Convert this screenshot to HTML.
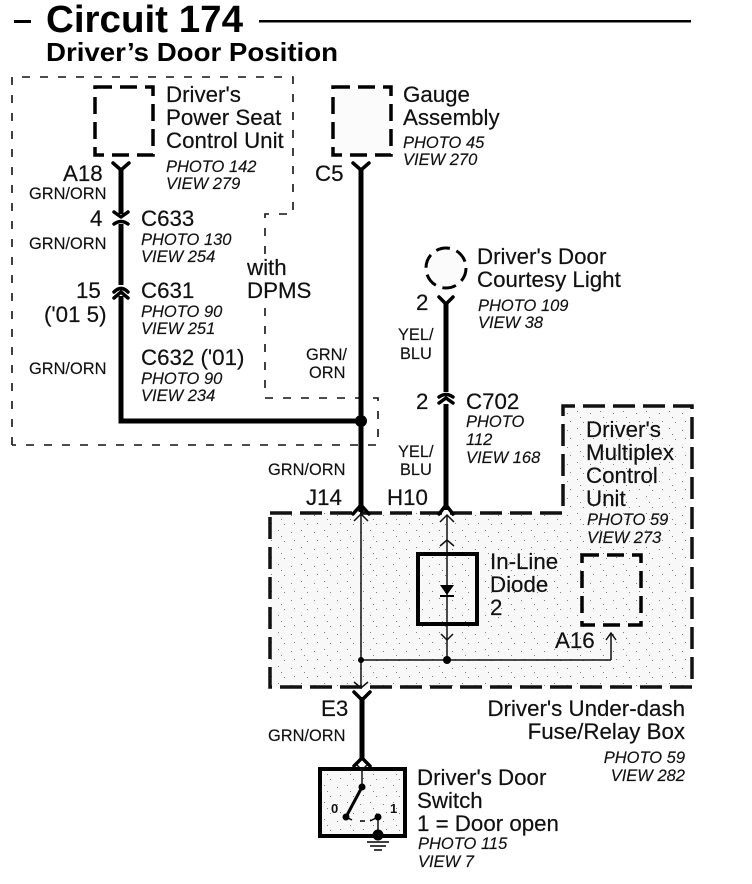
<!DOCTYPE html>
<html>
<head>
<meta charset="utf-8">
<style>
html,body{margin:0;padding:0;background:#fff;width:752px;height:884px;overflow:hidden}
svg{display:block}
text{font-family:"Liberation Sans",Arial,sans-serif;fill:#111}
.b{font-size:22.3px;stroke:#111;stroke-width:.2}
.i{font-size:16.5px;font-style:italic;stroke:#111;stroke-width:.15}
.w{font-size:16.4px;stroke:#111;stroke-width:.15}
.k{fill:none;stroke:#000;stroke-width:5}
.t{fill:none;stroke:#111;stroke-width:1.5}
.y{fill:none;stroke:#000;stroke-width:3.5;stroke-linecap:round;stroke-linejoin:round}
.d{fill:none;stroke:#111;stroke-width:1.6;stroke-dasharray:8 10}
.h{fill:none;stroke:#111;stroke-width:3.5;stroke-dasharray:22 8}
</style>
</head>
<body>
<svg width="752" height="884" viewBox="0 0 752 884" xmlns="http://www.w3.org/2000/svg">
<defs>
<pattern id="n" width="23" height="17" patternUnits="userSpaceOnUse">
<rect width="23" height="17" fill="#f8f8f8"/>
<g fill="#808080">
<rect x="2" y="3" width="1" height="1"/><rect x="15" y="5" width="1" height="1"/>
<rect x="5" y="9" width="1" height="1"/><rect x="18" y="13" width="1" height="1"/>
<rect x="8" y="14" width="1" height="1"/>
</g>
</pattern>
</defs>

<!-- title -->
<rect x="14" y="20" width="17" height="3" fill="#000"/>
<text x="46" y="32" font-size="38" font-weight="bold" textLength="197" lengthAdjust="spacingAndGlyphs" style="fill:#000">Circuit 174</text>
<rect x="259" y="20" width="432" height="2.5" fill="#000"/>
<text x="46" y="61" font-size="26" font-weight="bold" textLength="292" lengthAdjust="spacingAndGlyphs" style="fill:#000">Driver’s Door Position</text>

<!-- shaded relay box -->
<path d="M270 513H563V406H692V687H270Z" fill="url(#n)"/>
<path class="h" d="M270 513H563V406H692V687H270Z"/>

<!-- gauge fill -->
<rect x="335" y="89" width="55" height="66" fill="#fbfbfb"/>
<circle cx="446" cy="268" r="20" fill="#fbfbfb"/>

<!-- dashed with-DPMS border -->
<path class="d" d="M12 445V77H293V214H265V258M265 308V398H378V445H12"/>

<!-- dashed component boxes -->
<g fill="none" stroke="#000" stroke-width="3.5" stroke-dasharray="17 8">
<rect x="95" y="87" width="58" height="68"/>
<rect x="333" y="87" width="58" height="68"/>
<rect x="582" y="555" width="59" height="70"/>
</g>
<circle cx="446" cy="268" r="20" fill="none" stroke="#000" stroke-width="3" stroke-dasharray="14 7"/>

<!-- thick wires -->
<path class="k" d="M121 168V214M121 224V285M121 296V421H356"/>
<path class="k" d="M361 168V512M446 302V392M446 404V510M362 697V760"/>
<circle cx="361" cy="421" r="6" fill="#000"/>

<!-- connectors -->
<path class="y" d="M113 163L121 170L129 163"/>
<path class="y" d="M114 212L121 217L128 212M114 224Q121 219 128 224"/>
<path class="y" d="M114 292Q121 285 128 292M114 298L121 292L128 298"/>
<path class="y" d="M353 163L361 170L369 163"/>
<path class="y" d="M439 297L446 304L453 297"/>
<path class="y" d="M439 397Q446 392 453 397M439 403L446 398L453 403"/>
<path class="y" d="M353 514L361 505L369 514"/>
<path class="y" d="M439 514L446 505L453 514"/>
<path class="y" d="M354 692L362 700L370 692"/>
<path class="y" d="M354 766L362 758L370 766"/>

<!-- inner wiring -->
<path class="t" d="M361 513V687M447 516V660M361 660H611M611 660V633"/>
<path class="t" d="M354 521L361 514L368 521M440 522L447 515L454 522M440 546L447 540L454 546M441 634L447 640L453 634M354 682L361 688L368 682M606 640L611 633L616 640"/>
<circle cx="361" cy="660" r="3" fill="#000"/>
<circle cx="447" cy="660" r="4" fill="#000"/>

<!-- diode -->
<rect x="418" y="554" width="59" height="70" fill="none" stroke="#000" stroke-width="4"/>
<path d="M440 585H454L447 595Z" fill="#000"/>
<rect x="440" y="595" width="14" height="2" fill="#000"/>

<!-- switch -->
<rect x="320" y="769" width="85" height="67" fill="url(#n)" stroke="#000" stroke-width="4"/>
<path class="t" d="M362 769V787M378 817V835M357 765L362 770L367 765"/>
<path d="M362 787L346 817" fill="none" stroke="#000" stroke-width="3"/>
<path d="M346 817L352 820M360 821H365M370 821L378 817" fill="none" stroke="#000" stroke-width="1.5"/>
<circle cx="362" cy="787" r="3.5" fill="#000"/>
<circle cx="346" cy="817" r="3.5" fill="#000"/>
<circle cx="378" cy="817" r="3.5" fill="#000"/>
<circle cx="378" cy="835" r="5.5" fill="#000"/>
<path d="M367 842H389M370 846H386M374 850H382" fill="none" stroke="#000" stroke-width="1.5"/>
<text x="331" y="813" font-size="13" font-weight="bold">0</text>
<text x="390" y="813" font-size="13" font-weight="bold">1</text>

<!-- component labels -->
<text class="b" x="166" y="102">Driver's</text>
<text class="b" x="166" y="125">Power Seat</text>
<text class="b" x="166" y="148">Control Unit</text>
<text class="i" x="166" y="172">PHOTO 142</text>
<text class="i" x="166" y="189">VIEW 279</text>

<text class="b" x="403" y="102">Gauge</text>
<text class="b" x="403" y="125">Assembly</text>
<text class="i" x="403" y="148">PHOTO 45</text>
<text class="i" x="403" y="165">VIEW 270</text>

<text class="b" x="63" y="181">A18</text>
<text class="w" x="29" y="199">GRN/ORN</text>
<text class="b" x="90" y="226">4</text>
<text class="b" x="141" y="226">C633</text>
<text class="i" x="141" y="245">PHOTO 130</text>
<text class="i" x="141" y="262">VIEW 254</text>
<text class="w" x="29" y="249">GRN/ORN</text>
<text class="b" x="76" y="298">15</text>
<text class="b" x="141" y="298">C631</text>
<text class="b" x="44" y="322">('01 5)</text>
<text class="i" x="141" y="317">PHOTO 90</text>
<text class="i" x="141" y="334">VIEW 251</text>
<text class="b" x="141" y="365">C632 ('01)</text>
<text class="i" x="141" y="384">PHOTO 90</text>
<text class="i" x="141" y="401">VIEW 234</text>
<text class="w" x="29" y="374">GRN/ORN</text>

<text class="b" x="315" y="181">C5</text>
<text class="b" x="247" y="275">with</text>
<text class="b" x="247" y="298">DPMS</text>
<text class="w" x="306" y="360">GRN/</text>
<text class="w" x="309" y="378">ORN</text>
<text class="w" x="268" y="475">GRN/ORN</text>

<text class="b" x="477" y="264">Driver's Door</text>
<text class="b" x="477" y="287">Courtesy Light</text>
<text class="i" x="478" y="311">PHOTO 109</text>
<text class="i" x="478" y="328">VIEW 38</text>
<text class="b" x="416" y="310">2</text>
<text class="w" x="398" y="340">YEL/</text>
<text class="w" x="400" y="359">BLU</text>
<text class="b" x="416" y="409">2</text>
<text class="b" x="466" y="409">C702</text>
<text class="i" x="466" y="427">PHOTO</text>
<text class="i" x="466" y="445">112</text>
<text class="i" x="466" y="463">VIEW 168</text>
<text class="w" x="398" y="457">YEL/</text>
<text class="w" x="400" y="475">BLU</text>

<text class="b" x="586" y="437">Driver's</text>
<text class="b" x="586" y="460">Multiplex</text>
<text class="b" x="586" y="483">Control</text>
<text class="b" x="586" y="506">Unit</text>
<text class="i" x="587" y="525">PHOTO 59</text>
<text class="i" x="587" y="543">VIEW 273</text>

<text class="b" x="306" y="505">J14</text>
<text class="b" x="387" y="505">H10</text>
<text class="b" x="490" y="569">In-Line</text>
<text class="b" x="490" y="592">Diode</text>
<text class="b" x="490" y="615">2</text>
<text class="b" x="555" y="648">A16</text>

<text class="b" x="321" y="716">E3</text>
<text class="w" x="268" y="741">GRN/ORN</text>
<text class="b" x="685" y="716" text-anchor="end">Driver's Under-dash</text>
<text class="b" x="685" y="739" text-anchor="end">Fuse/Relay Box</text>
<text class="i" x="685" y="763" text-anchor="end">PHOTO 59</text>
<text class="i" x="685" y="781" text-anchor="end">VIEW 282</text>

<text class="b" x="417" y="785">Driver's Door</text>
<text class="b" x="417" y="808">Switch</text>
<text class="b" x="417" y="831">1 = Door open</text>
<text class="i" x="418" y="849">PHOTO 115</text>
<text class="i" x="418" y="867">VIEW 7</text>
</svg>
</body>
</html>
